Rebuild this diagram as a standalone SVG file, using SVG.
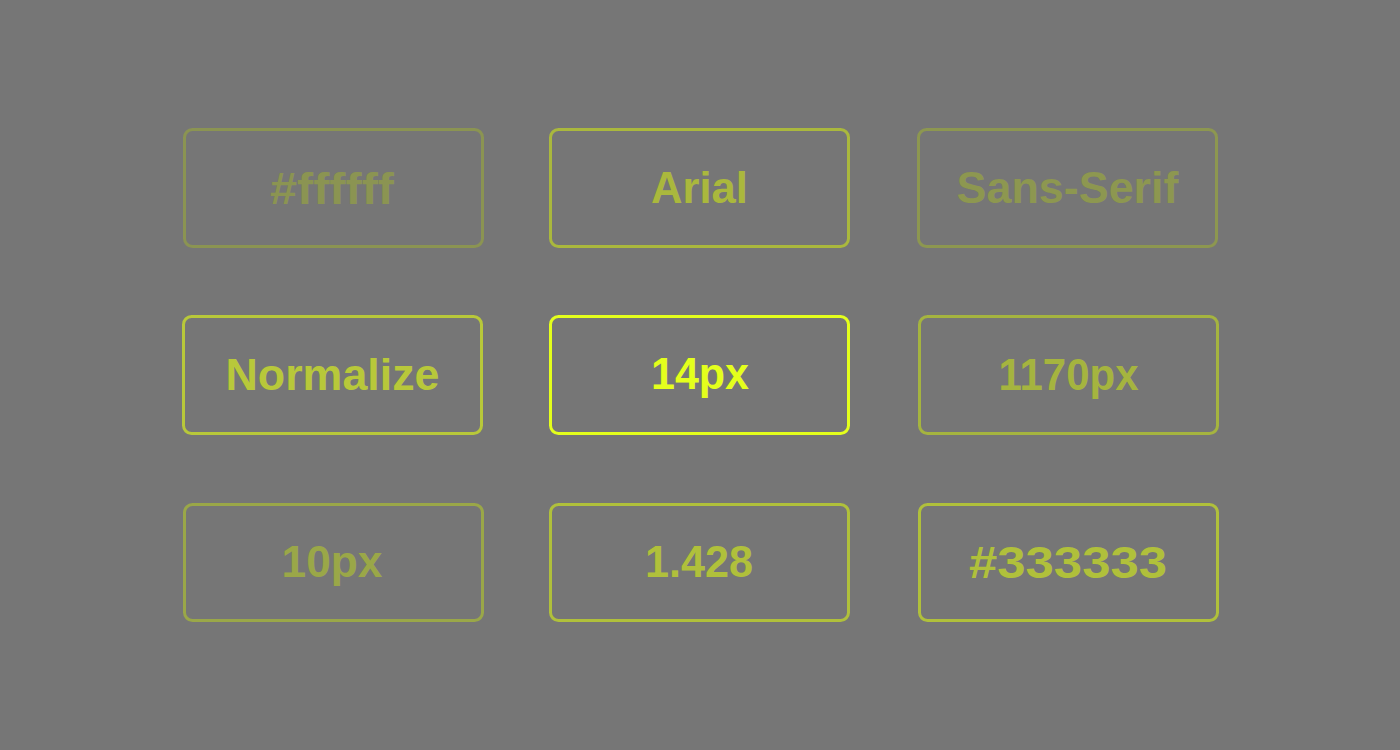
<svg xmlns="http://www.w3.org/2000/svg" width="1400" height="750" viewBox="0 0 1400 750">
  <style>
    .box { fill: none; stroke-width: 3; }
    .lbl { font-family: "Liberation Sans", Arial, Helvetica, sans-serif; font-weight: bold; font-size: 45px; text-anchor: middle; }
  </style>
  <rect width="1400" height="750" fill="#767676"/>

  <g id="n-ffffff">
    <rect class="box" x="184.5" y="129.5" width="298" height="117" rx="8" stroke="#8b9452"/>
    <text class="lbl" x="332" y="204" fill="#8b9452" textLength="124" lengthAdjust="spacingAndGlyphs">#ffffff</text>
  </g>
  <g id="n-arial">
    <rect class="box" x="550.5" y="129.5" width="298" height="117" rx="8" stroke="#aab83d"/>
    <text class="lbl" x="699.5" y="203" fill="#aab83d" textLength="97" lengthAdjust="spacingAndGlyphs">Arial</text>
  </g>
  <g id="n-sansserif">
    <rect class="box" x="918.5" y="129.5" width="298" height="117" rx="8" stroke="#8d9750"/>
    <text class="lbl" x="1067.5" y="203" fill="#8d9750" textLength="222" lengthAdjust="spacingAndGlyphs">Sans-Serif</text>
  </g>

  <g id="n-normalize">
    <rect class="box" x="183.5" y="316.5" width="298" height="117" rx="8" stroke="#b8c83a"/>
    <text class="lbl" x="332.5" y="390" fill="#b8c83a" textLength="214" lengthAdjust="spacingAndGlyphs">Normalize</text>
  </g>
  <g id="n-14px">
    <rect class="box" x="550.5" y="316.5" width="298" height="117" rx="8" stroke="#e4ff1c"/>
    <text class="lbl" x="700" y="389" fill="#e4ff1c" textLength="98" lengthAdjust="spacingAndGlyphs">14px</text>
  </g>
  <g id="n-1170px">
    <rect class="box" x="919.5" y="316.5" width="298" height="117" rx="8" stroke="#a5b43f"/>
    <text class="lbl" x="1068.5" y="390" fill="#a5b43f" textLength="140" lengthAdjust="spacingAndGlyphs">1170px</text>
  </g>

  <g id="n-10px">
    <rect class="box" x="184.5" y="504.5" width="298" height="116" rx="8" stroke="#9aa748"/>
    <text class="lbl" x="332" y="577" fill="#9aa748" textLength="101" lengthAdjust="spacingAndGlyphs">10px</text>
  </g>
  <g id="n-1428">
    <rect class="box" x="550.5" y="504.5" width="298" height="116" rx="8" stroke="#b0c03b"/>
    <text class="lbl" x="699" y="577" fill="#b0c03b" textLength="108" lengthAdjust="spacingAndGlyphs">1.428</text>
  </g>
  <g id="n-333333">
    <rect class="box" x="919.5" y="504.5" width="298" height="116" rx="8" stroke="#b0c03b"/>
    <text class="lbl" x="1068" y="578" fill="#b0c03b" textLength="198" lengthAdjust="spacingAndGlyphs">#333333</text>
  </g>
</svg>
